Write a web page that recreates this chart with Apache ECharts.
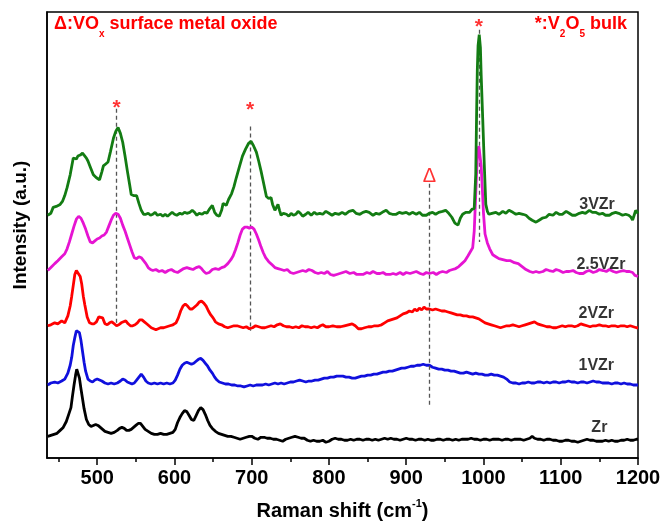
<!DOCTYPE html>
<html>
<head>
<meta charset="utf-8">
<script src="https://cdn.jsdelivr.net/npm/echarts@6/dist/echarts.min.js"></script>
<style>
  html, body { margin: 0; padding: 0; background: #fff; }
  #main { width: 666px; height: 526px; }
</style>
</head>
<body>
<div id="main"></div>
<script>
// Raman spectra, stacked (intensity in a.u., offsets included)
const sampleNames = ["Zr", "1VZr", "2VZr", "2.5VZr", "3VZr"];
const xTicks = [500, 600, 700, 800, 900, 1000, 1100, 1200];
const xMinorTicks = [450, 550, 650, 750, 850, 950, 1050, 1150];
const v2o5Peaks = [525, 698, 994]; // * : V2O5 bulk
const voxPeak = 930; // Δ : VOx surface metal oxide

const zr = [[436,24],[440,25],[444,26],[448,27],[452,30],[456,33],[460,39],[463,46],[466,53],[468,65],[470,76],[472,86],[473.5,92],[475,90],[477,83],[479,72],[481,62],[483,52],[486,41],[489,36],[492,34],[495,35],[498,36],[501,35],[504,33],[507,31],[510,29],[514,28],[518,27],[522,28],[526,30],[529,32],[532,33],[535,32],[538,30],[541,30],[544,31],[547,33],[550,35],[553,37],[556,37],[559,34],[562,31],[566,29],[570,27],[574,26],[578,26],[582,27],[586,26],[590,26],[594,27],[598,28],[601,31],[604,38],[607,43],[610,47],[613,50],[616,49],[619,45],[622,41],[625,40],[628,45],[631,50],[634,53],[637,51],[640,46],[643,40],[646,35],[649,32],[653,29],[657,27],[661,26],[665,25],[669,24],[673,24],[677,23],[681,22],[685,21],[689,22],[693,23],[697,24],[700,24],[704,22],[708,21],[712,23],[716,23],[720,22],[724,22],[728,21],[732,21],[736,20],[740,19],[744,21],[748,22],[752,23],[756,24],[760,23],[764,22],[768,22],[772,20],[776,19],[780,20],[784,19],[788,19],[792,20],[796,18],[800,19],[804,21],[808,22],[812,21],[816,21],[820,20],[824,20],[828,21],[832,20],[836,21],[840,21],[844,20],[848,21],[852,21],[856,20],[860,21],[864,20],[868,21],[872,22],[876,21],[880,22],[884,21],[888,21],[892,20],[896,21],[900,22],[904,21],[908,21],[912,20],[916,21],[920,21],[924,20],[928,21],[932,20],[936,20],[940,21],[944,21],[948,20],[952,21],[956,21],[960,20],[964,21],[968,20],[972,21],[976,21],[980,21],[984,22],[988,21],[992,21],[996,20],[1000,21],[1004,21],[1008,20],[1012,21],[1016,21],[1020,21],[1024,20],[1028,21],[1032,21],[1036,20],[1040,21],[1044,21],[1048,21],[1052,20],[1056,21],[1060,22],[1063,24],[1066,22],[1070,21],[1074,21],[1078,20],[1082,21],[1086,21],[1090,20],[1094,20],[1098,19],[1102,19],[1106,20],[1110,20],[1114,19],[1118,19],[1122,18],[1126,19],[1130,20],[1134,21],[1138,20],[1142,20],[1146,19],[1150,19],[1154,19],[1158,20],[1162,19],[1166,20],[1170,19],[1174,19],[1178,20],[1182,20],[1186,21],[1190,20],[1194,20],[1198,21],[1200,21]];

const v1 = [[436,76],[440,78],[445,79],[449,78],[454,80],[458,82],[462,88],[465,96],[467,104],[469,116],[471,124],[473,131],[475,133],[477,129],[479,121],[481,110],[483,99],[485,90],[488,82],[491,80],[494,79],[497,81],[500,82],[503,81],[506,80],[510,78],[514,77],[518,78],[522,77],[526,78],[530,80],[533,82],[536,81],[539,79],[542,78],[545,77],[548,78],[551,81],[554,84],[557,87],[560,84],[563,80],[566,78],[570,77],[574,78],[578,77],[582,78],[586,77],[590,78],[594,77],[598,78],[601,81],[604,86],[607,92],[610,96],[613,98],[616,99],[619,98],[622,97],[625,98],[628,100],[631,102],[634,103],[637,101],[640,98],[643,95],[646,91],[649,88],[652,84],[655,81],[658,79],[662,78],[666,77],[670,77],[674,76],[678,76],[682,75],[686,75],[690,74],[694,75],[698,76],[702,75],[706,76],[710,76],[714,76],[718,77],[722,76],[726,77],[730,78],[734,77],[738,78],[742,77],[746,78],[750,79],[754,79],[758,80],[762,81],[766,80],[770,79],[774,80],[778,80],[782,81],[786,81],[790,82],[794,83],[798,83],[802,84],[806,84],[810,85],[814,85],[818,85],[822,84],[826,84],[830,83],[834,83],[838,84],[842,85],[846,85],[850,86],[854,86],[858,87],[862,87],[866,88],[870,89],[874,89],[878,90],[882,90],[886,91],[890,92],[894,93],[898,93],[902,94],[906,95],[910,95],[914,96],[918,96],[922,97],[926,96],[930,96],[934,94],[938,93],[942,92],[946,92],[950,91],[954,91],[958,90],[962,90],[966,89],[970,88],[974,88],[978,89],[982,88],[986,87],[990,88],[994,87],[998,87],[1002,86],[1006,86],[1010,87],[1014,86],[1018,86],[1022,85],[1026,84],[1030,82],[1034,79],[1038,78],[1042,78],[1046,77],[1050,78],[1054,78],[1058,79],[1062,78],[1066,78],[1070,79],[1074,79],[1078,78],[1082,79],[1086,78],[1090,79],[1094,79],[1098,78],[1102,79],[1106,79],[1110,80],[1114,79],[1118,79],[1122,78],[1126,79],[1130,79],[1134,78],[1138,79],[1142,80],[1146,79],[1150,79],[1154,78],[1158,78],[1162,78],[1166,77],[1170,78],[1174,78],[1178,77],[1182,78],[1186,77],[1190,77],[1194,76],[1198,76],[1200,76]];

const v2 = [[436,136],[440,137],[445,139],[449,138],[454,141],[458,139],[462,146],[465,156],[467,166],[469,177],[471,188],[473,192],[475.5,194],[478,186],[480,178],[482,166],[484,157],[487,145],[490,139],[493,138],[496,138],[499,140],[502,145],[504,147],[507,144],[510,138],[513,137],[516,139],[519,140],[522,138],[525,136],[528,137],[531,139],[534,140],[537,141],[540,138],[543,136],[546,136],[549,137],[552,139],[555,142],[558,142],[561,140],[564,138],[567,136],[570,134],[573,133],[576,132],[579,133],[582,134],[586,134],[590,135],[594,136],[598,137],[602,139],[605,144],[608,151],[611,156],[614,158],[617,156],[620,153],[623,153],[626,155],[629,157],[632,160],[635,161],[638,159],[641,156],[644,151],[647,147],[650,144],[653,140],[657,138],[661,137],[665,135],[669,134],[673,135],[677,136],[681,136],[685,135],[689,134],[693,135],[697,133],[701,134],[705,136],[709,135],[713,134],[717,134],[721,135],[725,136],[729,135],[733,137],[737,138],[741,136],[745,135],[749,135],[753,134],[757,135],[761,134],[765,136],[769,135],[773,135],[777,134],[781,135],[785,134],[789,136],[792,137],[796,135],[800,135],[805,136],[810,135],[815,135],[820,136],[825,137],[830,138],[834,136],[838,133],[842,133],[846,134],[851,135],[855,135],[859,136],[864,136],[868,137],[872,139],[876,141],[880,142],[884,143],[888,144],[892,146],[896,148],[900,149],[904,151],[908,150],[911,153],[914,151],[917,154],[920,152],[923,155],[926,153],[930,153],[934,152],[938,153],[942,152],[946,151],[950,151],[954,150],[958,149],[962,148],[966,147],[970,147],[974,146],[978,146],[982,145],[986,145],[990,144],[994,143],[998,141],[1002,139],[1006,138],[1010,137],[1014,136],[1018,135],[1022,134],[1026,135],[1030,136],[1034,136],[1038,137],[1042,136],[1046,135],[1050,136],[1054,137],[1058,138],[1062,139],[1066,140],[1070,138],[1074,137],[1078,136],[1082,135],[1086,135],[1090,134],[1094,134],[1098,135],[1102,136],[1106,135],[1110,136],[1114,136],[1118,135],[1122,136],[1126,138],[1130,137],[1134,136],[1138,135],[1142,136],[1146,136],[1150,137],[1154,136],[1158,136],[1162,135],[1166,136],[1170,136],[1174,135],[1178,136],[1182,136],[1186,135],[1190,136],[1194,135],[1198,134],[1200,134]];

const v25 = [[436,192],[440,195],[445,199],[449,202],[454,206],[458,209],[461,214],[464,221],[467,229],[470,237],[473,244],[476,247],[479,245],[482,240],[485,234],[488,227],[491,221],[494,220],[497,222],[500,224],[503,225],[506,227],[509,228],[512,231],[515,237],[518,243],[521,248],[524,250],[527,249],[530,245],[533,238],[536,232],[539,225],[542,218],[545,211],[548,205],[551,204],[554,206],[557,205],[560,202],[563,199],[566,195],[569,193],[572,192],[576,193],[580,191],[584,192],[588,190],[592,192],[596,193],[600,191],[604,190],[608,192],[612,194],[616,195],[620,194],[624,193],[628,195],[632,196],[635,194],[638,191],[641,189],[645,190],[649,193],[653,194],[657,193],[661,195],[665,196],[669,199],[673,203],[676,207],[679,213],[682,220],[685,228],[688,234],[691,236],[694,236],[697,235],[700,236],[703,234],[706,229],[709,223],[712,216],[715,210],[718,205],[722,201],[726,198],[730,195],[734,194],[738,193],[742,192],[746,193],[750,190],[754,189],[758,190],[762,191],[766,192],[770,191],[774,193],[778,192],[782,190],[786,189],[790,190],[794,189],[798,191],[802,188],[806,187],[810,188],[814,189],[818,190],[822,191],[827,189],[832,190],[836,188],[840,188],[844,188],[849,190],[853,189],[857,191],[862,189],[866,189],[870,190],[874,188],[879,188],[883,189],[887,188],[892,190],[896,188],[900,190],[905,189],[909,190],[913,191],[918,189],[922,188],[926,190],[930,189],[935,190],[939,188],[943,190],[947,191],[952,190],[956,192],[960,193],[964,194],[968,196],[972,199],[976,202],[980,207],[983,211],[986,215],[988,232],[989.5,260],[991,290],[992.5,313],[994,318],[995.5,316],[997,298],[998.5,275],[1000,250],[1002,229],[1005,220],[1008,214],[1012,208],[1016,206],[1020,204],[1025,203],[1030,202],[1035,202],[1040,200],[1045,199],[1050,196],[1055,193],[1060,191],[1064,190],[1068,191],[1072,190],[1077,191],[1081,193],[1085,192],[1090,191],[1094,193],[1098,192],[1103,190],[1107,191],[1111,191],[1116,192],[1120,190],[1124,189],[1129,189],[1133,191],[1137,192],[1142,190],[1146,191],[1150,193],[1155,192],[1159,191],[1163,193],[1168,191],[1172,190],[1176,191],[1181,192],[1185,191],[1189,191],[1193,190],[1196,187],[1200,186]];

const v3 = [[436,248],[440,250],[443,256],[447,257],[452,259],[455,262],[458,268],[461,276],[465,289],[469,306],[473,305],[475,308],[478,309],[481,311],[483,309],[486,306],[488,303],[491,297],[495,289],[499,286],[503,284],[506,292],[508,298],[511,300],[514,302],[517,312],[521,326],[524,333],[527,337],[530,331],[533,322],[536,308],[539,293],[542,279],[544,269],[547,268],[551,268],[554,260],[557,253],[560,249],[563,249],[566,250],[569,248],[572,249],[575,251],[578,248],[582,249],[585,247],[588,249],[591,247],[594,249],[597,251],[600,249],[603,248],[607,250],[610,249],[613,251],[616,250],[620,251],[623,253],[626,251],[629,248],[632,250],[636,249],[639,251],[642,250],[645,254],[649,258],[652,251],[655,248],[658,247],[661,253],[663,260],[665,259],[667,258],[670,264],[674,270],[677,277],[680,286],[684,297],[688,308],[692,315],[696,321],[699,323],[702,319],[706,312],[709,303],[712,293],[715,282],[719,267],[722,265],[725,266],[727,259],[730,253],[732,256],[734,259],[736,253],[738,248],[741,250],[745,249],[748,247],[751,250],[754,248],[757,249],[760,252],[763,250],[766,247],[770,249],[773,251],[777,248],[781,251],[784,249],[788,250],[792,249],[796,252],[800,250],[804,248],[808,250],[813,249],[817,251],[821,249],[826,252],[831,253],[835,250],[840,249],[844,251],[848,252],[852,251],[857,248],[861,250],[865,249],[869,251],[874,253],[878,250],[882,249],[887,249],[891,251],[895,250],[900,251],[904,249],[908,251],[913,249],[917,251],[921,248],[926,248],[930,250],[934,251],[938,249],[942,251],[947,252],[951,253],[955,250],[959,246],[963,240],[967,238],[970,245],[973,249],[977,251],[982,251],[985,254],[988,255],[990,290],[991,346],[992,395],[993,420],[994.5,431],[996,418],[997,390],[999,346],[1001,300],[1003,259],[1005,252],[1007,249],[1011,250],[1016,251],[1020,249],[1025,252],[1029,250],[1033,253],[1038,251],[1042,249],[1046,250],[1051,249],[1055,248],[1059,245],[1063,243],[1068,241],[1072,243],[1076,245],[1081,246],[1085,249],[1090,248],[1094,251],[1098,249],[1102,249],[1107,252],[1111,250],[1115,248],[1119,248],[1124,250],[1128,251],[1132,250],[1137,253],[1141,251],[1145,251],[1150,249],[1154,250],[1158,248],[1163,248],[1167,250],[1171,251],[1175,250],[1180,248],[1184,249],[1188,248],[1191,246],[1193,243],[1195,248],[1197,253],[1200,250]];

const spectra = [zr, v1, v2, v25, v3];
const colors = ["#000000", "#1010dd", "#ff0000", "#e614d2", "#137c13"];

const FONT = "Liberation Sans";
const myChart = echarts.init(document.getElementById("main"));

// where the sample names sit (x in cm-1, y in a.u.)
const namePos = [[1150, 33], [1146, 96], [1146, 149], [1152, 199], [1147, 259]];
const starY = [357, 354, 439];
const dashSpan = [[356, 136], [338, 131], [436, 221]];

const lineSeries = spectra.map((d, i) => ({
  name: sampleNames[i],
  type: "line",
  data: d,
  showSymbol: false,
  symbol: "none",
  lineStyle: { color: colors[i], width: 2.8 },
  z: 2 + i,
}));

// dashed guide lines on top of the spectra
lineSeries[4].markLine = {
  silent: true,
  symbol: ["none", "none"],
  label: { show: false },
  lineStyle: { color: "#555", type: [4, 3], width: 1.3 },
  data: v2o5Peaks
    .map((w, i) => [{ coord: [w, dashSpan[i][0]] }, { coord: [w, dashSpan[i][1]] }])
    .concat([[{ coord: [voxPeak, 280] }, { coord: [voxPeak, 56] }]]),
};

const redRich = {
  a: { fontSize: 18, fontWeight: "bold", fontFamily: FONT, fill: "#ff0000", lineHeight: 31, verticalAlign: "middle" },
  s: { fontSize: 10, fontWeight: "bold", fontFamily: FONT, fill: "#ff0000", lineHeight: 12, verticalAlign: "bottom" },
};

const option = {
  backgroundColor: "#fff",
  animation: false,
  grid: {
    left: 47,
    right: 28,
    top: 12,
    bottom: 62,
    show: true,
    borderColor: "#000",
    borderWidth: 1.5,
  },
  xAxis: [
    {
      type: "value",
      min: 435,
      max: 1200,
      position: "bottom",
      axisLine: { show: true, lineStyle: { color: "#000", width: 1.5 } },
      axisTick: {
        show: true,
        length: 7,
        customValues: xTicks,
        lineStyle: { color: "#000", width: 1.5 },
      },
      axisLabel: {
        customValues: xTicks,
        formatter: (v) => String(v),
        fontSize: 20,
        fontWeight: "bold",
        fontFamily: FONT,
        color: "#000",
        margin: 10,
      },
      splitLine: { show: false },
      name: "{t|Raman shift (cm}{s|-1}{t|)}",
      nameLocation: "middle",
      nameGap: 40,
      nameTextStyle: {
        rich: {
          t: { fontSize: 20, fontWeight: "bold", fontFamily: FONT, color: "#000", lineHeight: 26 },
          s: { fontSize: 11, fontWeight: "bold", fontFamily: FONT, color: "#000", lineHeight: 12, verticalAlign: "top" },
        },
      },
    },
    {
      type: "value",
      min: 435,
      max: 1200,
      position: "bottom",
      axisLine: { show: false },
      axisTick: {
        show: true,
        length: 4,
        customValues: xMinorTicks,
        lineStyle: { color: "#000", width: 1.5 },
      },
      axisLabel: { show: false },
      splitLine: { show: false },
    },
  ],
  yAxis: {
    type: "value",
    min: 2,
    max: 454,
    axisLine: { show: true, lineStyle: { color: "#000", width: 1.5 } },
    axisTick: { show: false },
    axisLabel: { show: false },
    splitLine: { show: false },
  },
  graphic: [
    {
      type: "text",
      x: 21,
      y: 225,
      rotation: Math.PI / 2,
      style: {
        text: "Intensity (a.u.)",
        fontSize: 19,
        fontWeight: "bold",
        fontFamily: FONT,
        fill: "#000",
        align: "center",
        verticalAlign: "middle",
      },
    },
    {
      type: "text",
      left: 54,
      top: 15,
      style: { text: "{a|Δ:VO}{s|x}{a| surface metal oxide}", rich: redRich },
    },
    {
      type: "text",
      right: 39,
      top: 15,
      style: { text: "{a|*:V}{s|2}{a|O}{s|5}{a| bulk}", rich: redRich },
    },
  ],
  series: lineSeries.concat([
    {
      name: "sample names",
      type: "scatter",
      symbolSize: 1,
      itemStyle: { color: "rgba(0,0,0,0)" },
      silent: true,
      z: 10,
      data: sampleNames.map((n, i) => [namePos[i][0], namePos[i][1], n]),
      label: {
        show: true,
        position: "top",
        distance: 0,
        offset: [0, 9],
        formatter: (p) => p.data[2],
        fontSize: 16,
        fontWeight: "bold",
        fontFamily: FONT,
        color: "#000",
      },
    },
    {
      name: "V2O5 bulk",
      type: "scatter",
      symbolSize: 1,
      itemStyle: { color: "rgba(0,0,0,0)" },
      silent: true,
      z: 10,
      data: v2o5Peaks.map((w, i) => [w, starY[i]]),
      label: {
        show: true,
        position: "inside",
        formatter: "*",
        fontSize: 21,
        fontWeight: "bold",
        fontFamily: FONT,
        color: "#ff0000",
      },
    },
    {
      name: "VOx",
      type: "scatter",
      symbolSize: 1,
      itemStyle: { color: "rgba(0,0,0,0)" },
      silent: true,
      z: 10,
      data: [[voxPeak, 287]],
      label: {
        show: true,
        position: "inside",
        formatter: "Δ",
        fontSize: 20,
        fontFamily: FONT,
        color: "#ff0000",
      },
    },
  ]),
};
myChart.setOption(option);
</script>
</body>
</html>
